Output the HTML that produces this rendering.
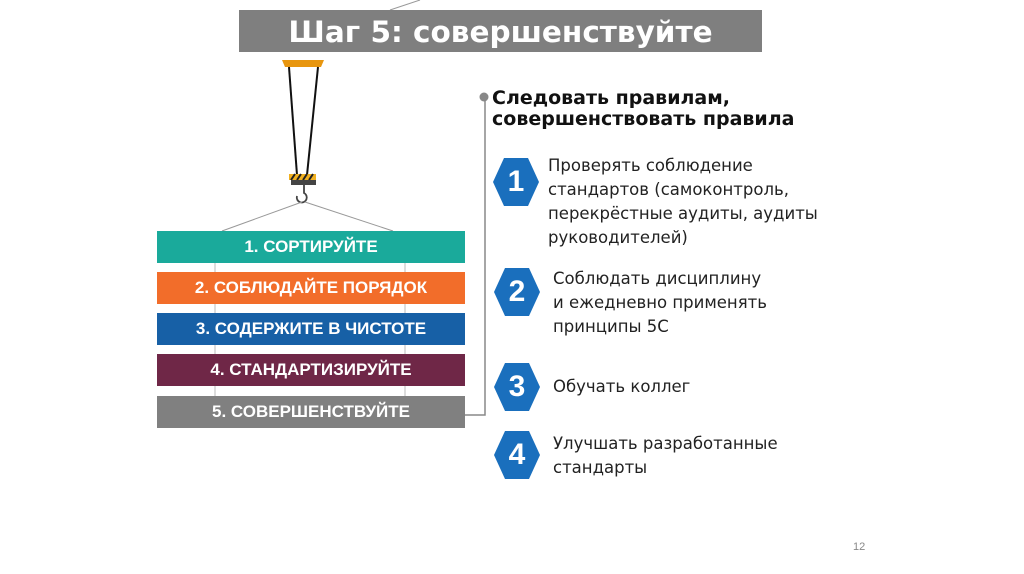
<!DOCTYPE html>
<html><head><meta charset="utf-8"><style>
body{margin:0;width:1024px;height:574px;background:#fff;position:relative;overflow:hidden;font-family:"DejaVu Sans","Liberation Sans",sans-serif}
.bar{position:absolute;left:157px;width:308px;height:32px;color:#fff;font-family:"Liberation Sans",sans-serif;font-weight:bold;font-size:17px;text-align:center;line-height:32px}
.t{position:absolute;left:548px;font-size:16.5px;line-height:24px;color:#222}
.hex{position:absolute;width:46px;height:50px;color:#fff;font:bold 30px "Liberation Sans",sans-serif;text-align:center;line-height:50px}
.hex svg{position:absolute;left:0;top:0}
.hex span{position:relative}
</style></head><body>
<svg width="1024" height="574" style="position:absolute;left:0;top:0">
<line x1="390" y1="10" x2="420" y2="0" stroke="#999" stroke-width="1"/>
<polygon points="282,60 324,60 321,67 285,67" fill="#e8960f"/>
<line x1="289" y1="67" x2="297" y2="175" stroke="#111" stroke-width="2"/>
<line x1="318" y1="67" x2="307" y2="175" stroke="#111" stroke-width="2"/>
<rect x="289" y="174" width="27" height="6" fill="#f0b020"/>
<path d="M291,180 l4,-6 M297,180 l4,-6 M303,180 l4,-6 M309,180 l4,-6" stroke="#222" stroke-width="2"/>
<rect x="291" y="180" width="25" height="5" fill="#444"/>
<path d="M304,185 v8 a5,5 0 1 1 -7,3" fill="none" stroke="#444" stroke-width="1.8"/>
<line x1="302" y1="202" x2="222" y2="231" stroke="#999"/>
<line x1="305" y1="202" x2="393" y2="231" stroke="#999"/>
<g stroke="#bbb"><line x1="215" y1="263" x2="215" y2="396"/><line x1="405" y1="263" x2="405" y2="396"/></g>
<polyline points="465,415 485,415 485,97" fill="none" stroke="#888" stroke-width="1.5"/>
<circle cx="484" cy="97" r="4.5" fill="#888"/>
</svg>
<div style="position:absolute;left:239px;top:10px;width:523px;height:42px;background:#7f7f7f;color:#fff;font:bold 29.5px 'DejaVu Sans',sans-serif;text-align:center;line-height:44px">Шаг 5: совершенствуйте</div>
<div class="bar" style="top:231px;background:#1aaa9b">1. СОРТИРУЙТЕ</div>
<div class="bar" style="top:272px;background:#f26d2a">2. СОБЛЮДАЙТЕ ПОРЯДОК</div>
<div class="bar" style="top:313px;background:#1760a6">3. СОДЕРЖИТЕ В ЧИСТОТЕ</div>
<div class="bar" style="top:354px;background:#6f2747">4. СТАНДАРТИЗИРУЙТЕ</div>
<div class="bar" style="top:396px;background:#808080">5. СОВЕРШЕНСТВУЙТЕ</div>
<div style="position:absolute;left:492px;top:88px;font-weight:bold;font-size:19px;line-height:21px;color:#111">Следовать правилам,<br>совершенствовать правила</div>
<div class="hex" style="left:493px;top:157px"><svg width="46" height="50"><polygon points="11,1 35,1 46,25 35,49 11,49 0,25" fill="#1a6fbd"/></svg><span>1</span></div>
<div class="hex" style="left:494px;top:267px"><svg width="46" height="50"><polygon points="11,1 35,1 46,25 35,49 11,49 0,25" fill="#1a6fbd"/></svg><span>2</span></div>
<div class="hex" style="left:494px;top:362px"><svg width="46" height="50"><polygon points="11,1 35,1 46,25 35,49 11,49 0,25" fill="#1a6fbd"/></svg><span>3</span></div>
<div class="hex" style="left:494px;top:430px"><svg width="46" height="50"><polygon points="11,1 35,1 46,25 35,49 11,49 0,25" fill="#1a6fbd"/></svg><span>4</span></div>
<div class="t" style="top:154px">Проверять соблюдение<br>стандартов (самоконтроль,<br>перекрёстные аудиты, аудиты<br>руководителей)</div>
<div class="t" style="top:267px;left:553px">Соблюдать дисциплину<br>и ежедневно применять<br>принципы 5С</div>
<div class="t" style="top:375px;left:553px">Обучать коллег</div>
<div class="t" style="top:432px;left:553px">Улучшать разработанные<br>стандарты</div>
<div style="position:absolute;left:853px;top:541px;font:11px 'Liberation Sans',sans-serif;color:#888">12</div>
</body></html>
